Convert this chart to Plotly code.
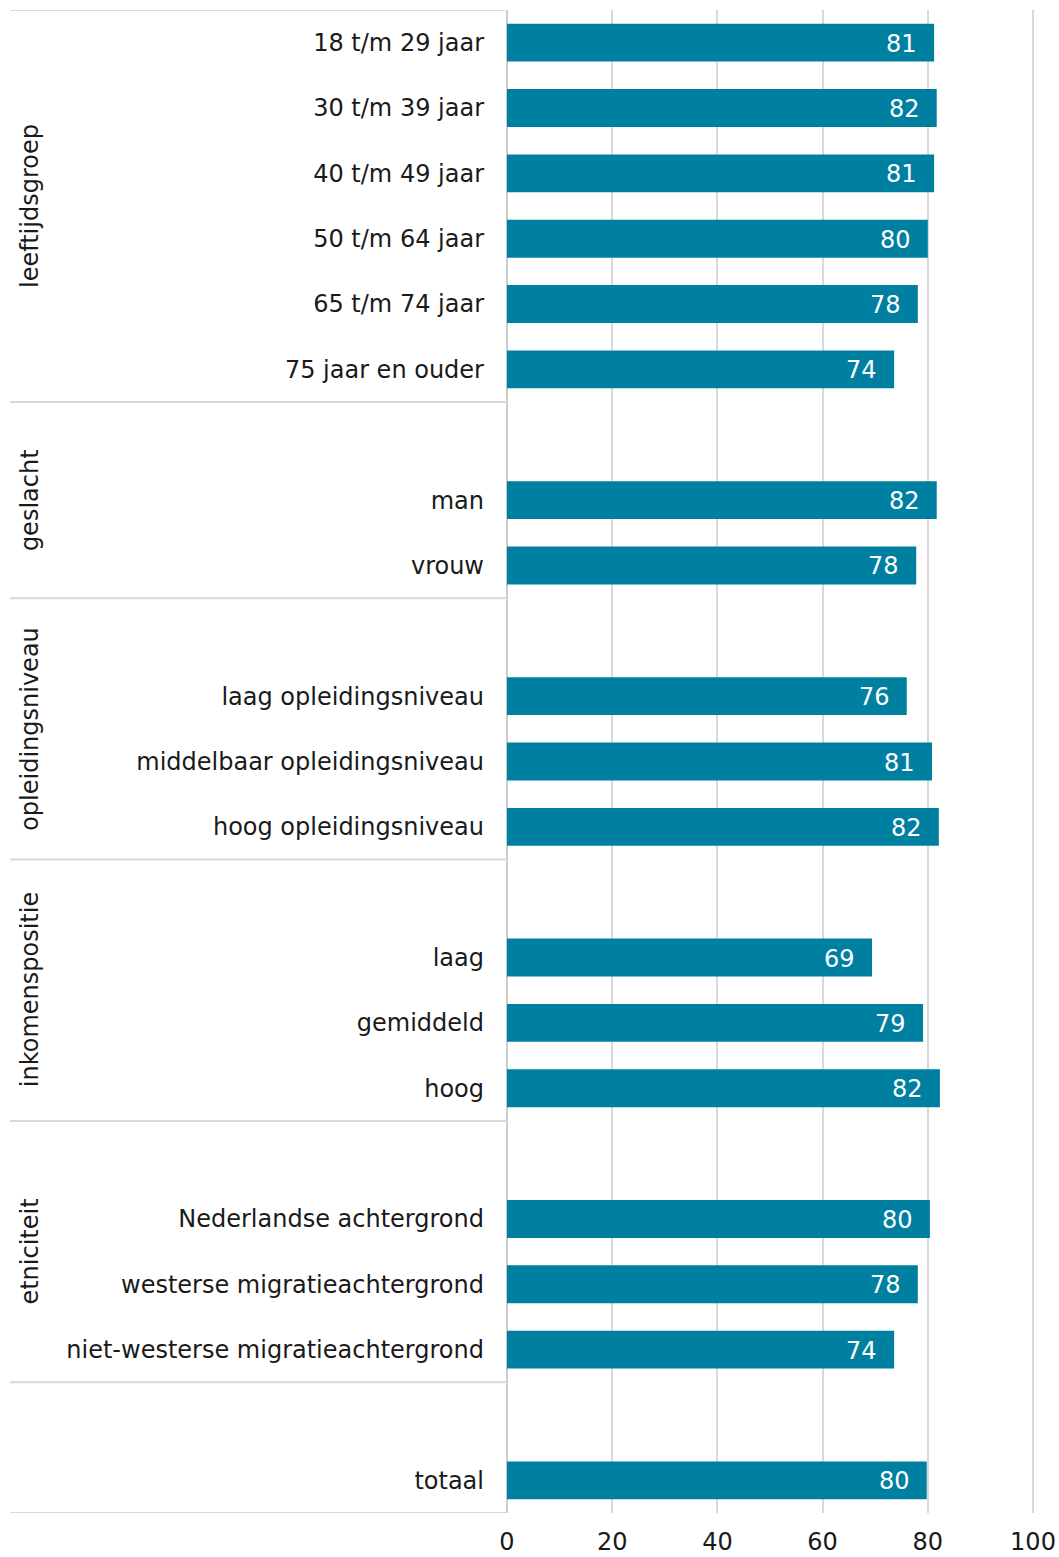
import plotly.graph_objects as go

# groups, row labels and values (percentages)
groups = ["leeftijdsgroep", "geslacht", "opleidingsniveau", "inkomenspositie", "etniciteit", ""]
labels = [
    ["18 t/m 29 jaar", "30 t/m 39 jaar", "40 t/m 49 jaar", "50 t/m 64 jaar", "65 t/m 74 jaar", "75 jaar en ouder"],
    ["man", "vrouw"],
    ["laag opleidingsniveau", "middelbaar opleidingsniveau", "hoog opleidingsniveau"],
    ["laag", "gemiddeld", "hoog"],
    ["Nederlandse achtergrond", "westerse migratieachtergrond", "niet-westerse migratieachtergrond"],
    ["totaal"],
]
values = [
    [81.2, 81.7, 81.2, 80.0, 78.1, 73.6],
    [81.7, 77.8],
    [76.0, 80.8, 82.1],
    [69.4, 79.1, 82.3],
    [80.4, 78.1, 73.6],
    [79.8],
]
x_ticks = [0, 20, 40, 60, 80, 100]

FONT = "DejaVu Sans, Verdana, sans-serif"
FS = 24
BAR = "#0080a1"
LINE = "#d9d9d9"
TXT = "#1a1a1a"

# build row positions: every group after the first starts with one empty row
ys, xs, texts, ticktext, tickvals = [], [], [], [], []
bounds = []  # (start, end) row index of each group incl. blank row
row = 0
for gi, (labs, vals) in enumerate(zip(labels, values)):
    start = row
    if gi > 0:
        row += 1
    for lab, v in zip(labs, vals):
        ys.append(row)
        xs.append(v)
        texts.append(f"{v:.0f}")
        tickvals.append(row)
        ticktext.append(lab)
        row += 1
    bounds.append((start, row))
n_rows = row

fig = go.Figure()
fig.add_trace(go.Bar(
    x=xs, y=ys, orientation="h",
    marker=dict(color=BAR, line=dict(width=0)),
    width=0.58, hoverinfo="skip",
))

# body margin is removed below, so the figure fills the window
W, H = 1059, 1557
ml, mt, mb = 507, 10, 44
mr = 23
plot_w = W - ml - mr
x_max = 100 * plot_w / (1033 - ml)  # keeps the 100 gridline inside the plot
x_left = (10 - ml) / plot_w

shapes = []
annotations = []
# separator lines between groups (left part only)
edges = [0] + [b[1] for b in bounds]
for e in edges:
    shapes.append(dict(type="line", xref="paper", yref="y",
                       x0=x_left, x1=0, y0=e - 0.5, y1=e - 0.5,
                       line=dict(color=LINE, width=2)))
for g, (s, e) in zip(groups, bounds):
    if not g:
        continue
    annotations.append(dict(
        text=g, xref="paper", yref="y", x=(30 - ml) / plot_w, y=(s + e - 1) / 2,
        textangle=-90, showarrow=False, xanchor="center", yanchor="middle",
        font=dict(size=FS, family=FONT, color=TXT),
    ))
# value labels inside the bar ends
for x, y, t in zip(xs, ys, texts):
    annotations.append(dict(
        text=t, x=x, y=y, xref="x", yref="y", xanchor="right", yanchor="middle",
        xshift=-15, yshift=-1, showarrow=False,
        font=dict(size=FS, family=FONT, color="white"),
    ))

fig.update_layout(
    width=W, height=H,
    margin=dict(l=ml, r=mr, t=mt, b=mb, autoexpand=False),
    paper_bgcolor="white", plot_bgcolor="white",
    showlegend=False,
    font=dict(family=FONT, size=FS, color=TXT),
    shapes=shapes, annotations=annotations,
    xaxis=dict(range=[0, x_max], tickvals=x_ticks, showgrid=True, gridcolor=LINE,
               gridwidth=2, zeroline=True, zerolinecolor="#cccccc", zerolinewidth=2,
               showline=False, ticks="", ticklabelstandoff=12, automargin=False,
               ticklabeloverflow="allow", tickfont=dict(size=FS), fixedrange=True),
    yaxis=dict(range=[n_rows - 0.5, -0.5], tickvals=tickvals, ticktext=ticktext,
               showgrid=False, zeroline=False, ticks="", ticklabelstandoff=22,
               automargin=False, tickfont=dict(size=FS), fixedrange=True),
)

fig.write_html("out.html", config={"displayModeBar": False},
               post_script="document.body.style.margin='0';document.body.style.overflow='hidden';")
